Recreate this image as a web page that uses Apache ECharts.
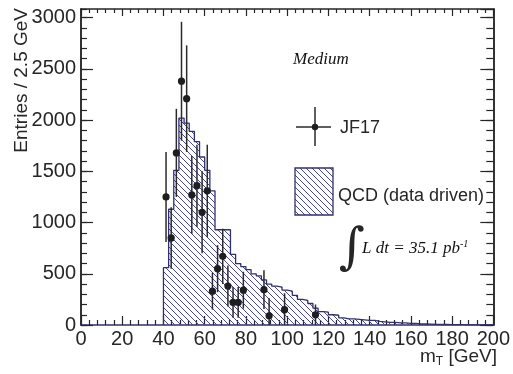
<!DOCTYPE html>
<html>
<head>
<meta charset="UTF-8">
<title>mT QCD</title>
<script src="https://cdn.jsdelivr.net/npm/echarts@6/dist/echarts.min.js"></script>
<style>
    body { margin: 0; padding: 0; background: #fff; }
    #main { width: 513px; height: 374px; }
</style>
</head>
<body>
<div id="main"></div>
<script type="text/javascript">
// QCD (data driven) histogram, 2.5 GeV bins, left edges
var binLeft = [40, 42.5, 45, 47.5, 50, 52.5, 55, 57.5, 60, 62.5, 65, 67.5, 70, 72.5, 75, 77.5,
    80, 82.5, 85, 87.5, 90, 92.5, 95, 97.5, 100, 102.5, 105, 107.5, 110, 112.5, 115, 117.5,
    120, 122.5, 125, 127.5, 130, 132.5, 135, 137.5, 140, 142.5, 145, 147.5, 150, 152.5, 155, 157.5,
    160, 162.5, 165, 167.5, 170, 172.5, 175, 177.5, 180, 182.5, 185, 187.5, 190, 192.5, 195, 197.5];
var qcd = [560, 1130, 1510, 2020, 1970, 1890, 1790, 1640, 1510, 1310, 930, 930, 930, 690, 600, 570,
    540, 500, 480, 440, 400, 380, 370, 340, 330, 290, 250, 240, 210, 165, 130, 125,
    100, 95, 70, 60, 60, 55, 50, 45, 45, 35, 30, 25, 25, 20, 20, 15,
    15, 10, 10, 8, 6, 5, 5, 4, 3, 3, 2, 2, 2, 1, 1, 1];
var histEnd = 200;

// JF17 data points
var jfX = [41.25, 43.75, 46.25, 48.75, 51.25, 53.75, 56.25, 58.75, 61.25, 63.75,
    66.25, 68.75, 71.25, 73.75, 76.25, 78.75, 88.75, 91.25, 98.75, 113.75];
var jfY = [1250, 850, 1680, 2380, 2210, 1270, 1360, 1100, 1310, 330,
    550, 670, 380, 220, 220, 340, 345, 90, 150, 100];
var jfErr = [440, 300, 430, 580, 520, 380, 400, 400, 450, 180,
    230, 270, 200, 150, 150, 180, 190, 170, 160, 100];

var navy = '#30306e';
var ink = '#262626';
var sans = '"Liberation Sans", Arial, sans-serif';
var serif = '"Liberation Serif", "DejaVu Serif", serif';

// hatch pattern  \\\\
function hatch() {
    var c = document.createElement('canvas');
    c.width = 6; c.height = 6;
    var g = c.getContext('2d');
    g.strokeStyle = '#48488c';
    g.lineWidth = 1;
    g.beginPath();
    g.moveTo(-1, -1); g.lineTo(7, 7);
    g.moveTo(-1, 5); g.lineTo(1, 7);
    g.moveTo(5, -1); g.lineTo(7, 1);
    g.stroke();
    return { image: c, repeat: 'repeat' };
}
var pat = hatch();

var stepData = [[binLeft[0], 0]];
for (var i = 0; i < binLeft.length; i++) {
    stepData.push([binLeft[i], qcd[i]]);
}
stepData.push([histEnd, qcd[qcd.length - 1]]);

var pts = [];
for (var j = 0; j < jfX.length; j++) {
    pts.push([jfX[j], jfY[j], jfErr[j]]);
}

function plain(v) { return String(v); }

function frameX(pos, show, len, mlen) {
    return {
        type: 'value', position: pos, min: 0, max: 200, interval: 20,
        axisLine: { show: true, onZero: false, lineStyle: { color: pos === 'bottom' ? navy : ink, width: 1.5 } },
        axisTick: { show: true, inside: true, length: len, lineStyle: { color: ink, width: 1.2 } },
        minorTick: { show: true, splitNumber: 5, length: mlen, lineStyle: { color: ink, width: 1.2 } },
        axisLabel: { show: show, margin: 4, color: ink, fontFamily: sans, fontSize: 20, formatter: plain },
        splitLine: { show: false }
    };
}
function frameY(pos, show, step, len) {
    return {
        type: 'value', position: pos, min: 0, max: 3085, interval: step,
        axisLine: { show: true, onZero: false, lineStyle: { color: ink, width: 1.5 } },
        axisTick: { show: true, inside: true, length: len, lineStyle: { color: ink, width: 1.2 } },
        axisLabel: { show: show, margin: 5, showMaxLabel: false, color: ink, fontFamily: sans, fontSize: 20, formatter: plain },
        splitLine: { show: false }
    };
}

var myChart = echarts.init(document.getElementById('main'));
var option = {
    animation: false,
    backgroundColor: '#fff',
    grid: { left: 81, right: 18, top: 9, bottom: 49 },
    xAxis: [frameX('bottom', true, 9, 5), frameX('top', false, 7, 4)],
    yAxis: [frameY('left', true, 500, 12), frameY('left', false, 100, 6),
        frameY('right', false, 500, 13), frameY('right', false, 100, 7)],
    series: [{
        name: 'QCD (data driven)',
        type: 'line',
        step: 'end',
        data: stepData,
        symbol: 'none',
        lineStyle: { color: navy, width: 1.3 },
        areaStyle: { color: pat, opacity: 1 },
        z: 2
    }, {
        name: 'JF17',
        type: 'custom',
        data: pts,
        z: 3,
        renderItem: function (params, api) {
            var x = api.value(0), y = api.value(1), e = api.value(2);
            var p = api.coord([x, y]);
            var lo = api.coord([x, Math.max(0, y - e)]);
            var hi = api.coord([x, y + e]);
            return {
                type: 'group',
                children: [{
                    type: 'line',
                    shape: { x1: p[0], y1: lo[1], x2: p[0], y2: hi[1] },
                    style: { stroke: '#2a2a2a', lineWidth: 1.5 }
                }, {
                    type: 'circle',
                    shape: { cx: p[0], cy: p[1], r: 3.6 },
                    style: { fill: '#1e1e1e' }
                }]
            };
        }
    }],
    graphic: [
        { type: 'text', x: 22, y: 8, rotation: Math.PI / 2,
            style: { text: 'Entries / 2.5 GeV', font: '19px ' + sans, fill: ink, align: 'right', verticalAlign: 'middle' } },
        { type: 'text', x: 497, y: 357,
            style: { text: '{m|m}{t|T}{m| [GeV]}', align: 'right', verticalAlign: 'middle', fill: ink,
                rich: { m: { font: '19px ' + sans, fill: ink }, t: { font: '12px ' + sans, fill: ink, padding: [9, 0, 0, 0] } } } },
        { type: 'text', x: 293, y: 60,
            style: { text: 'Medium', font: 'italic 17px ' + serif, fill: '#111', verticalAlign: 'middle' } },
        // JF17 marker
        { type: 'line', shape: { x1: 296, y1: 127, x2: 331, y2: 127 }, style: { stroke: '#2a2a2a', lineWidth: 1.5 } },
        { type: 'line', shape: { x1: 315, y1: 107, x2: 315, y2: 146 }, style: { stroke: '#2a2a2a', lineWidth: 1.5 } },
        { type: 'circle', shape: { cx: 315, cy: 127, r: 3.2 }, style: { fill: '#1e1e1e' } },
        { type: 'text', x: 340, y: 128,
            style: { text: 'JF17', font: '18px ' + sans, fill: ink, verticalAlign: 'middle' } },
        // QCD box
        { type: 'rect', shape: { x: 295, y: 168, width: 38, height: 47 },
            style: { fill: pat, stroke: navy, lineWidth: 1.3 } },
        { type: 'text', x: 338, y: 196,
            style: { text: 'QCD (data driven)', font: '18px ' + sans, fill: ink, verticalAlign: 'middle' } },
        // luminosity
        { type: 'text', x: 352, y: 250,
            style: { text: '\u222B', font: '50px "DejaVu Serif", serif', fill: ink, align: 'center', verticalAlign: 'middle' } },
        { type: 'text', x: 362, y: 249,
            style: { text: '{a|L dt = 35.1 pb}{s|-1}', verticalAlign: 'middle', fill: '#111',
                rich: { a: { font: 'italic 17px ' + serif, fill: '#111' }, s: { font: 'italic 10px ' + serif, fill: '#111', padding: [0, 0, 9, 0] } } } }
    ]
};
myChart.setOption(option);
</script>
</body>
</html>
